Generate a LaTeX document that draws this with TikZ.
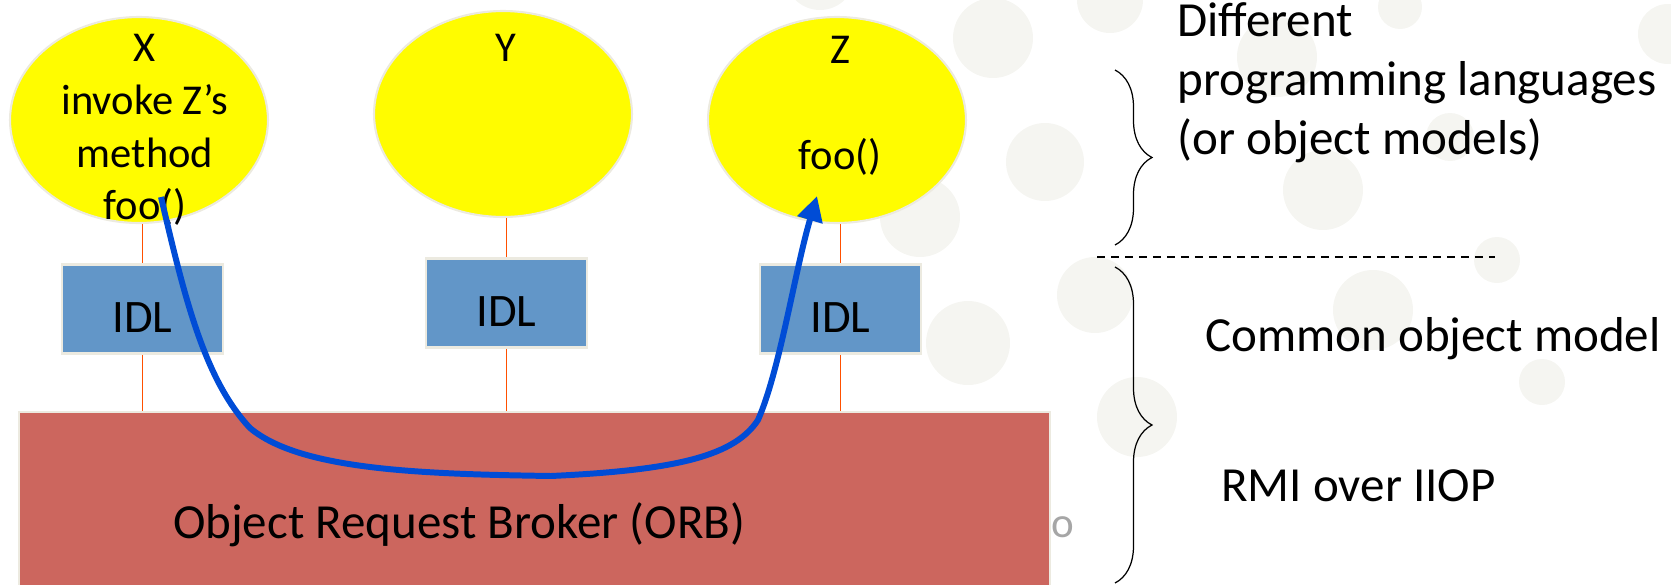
\documentclass[tikz,border=0pt]{standalone}
\usepackage{fontspec}
\setmainfont{Carlito}
\usepackage{tikz}
\usetikzlibrary{
  shapes.geometric, arrows.meta, positioning, calc,
  decorations.pathreplacing
}
\definecolor{objyellow}{RGB}{255,252,0}
\definecolor{idlblue}{RGB}{98,150,200}
\definecolor{orbred}{RGB}{204,102,94}
\definecolor{paleedge}{RGB}{236,234,224}
\definecolor{wireorange}{RGB}{255,80,0}
\definecolor{callblue}{RGB}{0,76,214}
\definecolor{bgdot}{RGB}{245,245,241}

\begin{document}
\begin{tikzpicture}[
    x=0.02cm, y=-0.02cm,
    font=\fontsize{27.9}{33.6}\selectfont,
    obj/.style={ellipse, draw=paleedge, line width=1.2pt, fill=objyellow, minimum width=5.16cm, minimum height=4.12cm},
    objtext/.style={inner sep=0pt, align=center, font=\fontsize{24.2}{30}\selectfont},
    idl/.style={rectangle, draw=paleedge, line width=1.6pt, fill=idlblue, minimum width=3.22cm, minimum height=1.78cm, text height=0.96cm, text depth=0pt, font=\fontsize{26.5}{32}\selectfont},
    orb/.style={rectangle, draw=paleedge, line width=1.2pt, fill=orbred, anchor=north west, minimum width=20.63cm, minimum height=4.44cm},
    orbtext/.style={inner sep=0pt, text height=0.62cm, text depth=0pt},
    note/.style={inner sep=0pt, align=left},
    link/.style={draw=wireorange, line width=1.1pt},
    call/.style={draw=callblue, line width=3.4pt, -{Triangle[length=0.5cm, width=0.5cm]}},
    layer/.style={dashed, dash pattern=on 0.16cm off 0.12cm, line width=0.6pt},
    span/.style={decorate, decoration={brace, amplitude=0.74cm}, line width=0.7pt},
]
    \useasboundingbox (0,0) rectangle (1671,585);

    % Background dots
    \foreach \cx/\cy/\r in {1110/0/33, 993/38/40, 820/-25/35, 1277/57/40, 1400/7/22, 1668/34/30,
                            1045/162/39, 920/217/40, 1323/190/40, 1450/137/24, 1497/260/23,
                            1095/295/38, 1373/310/40, 1542/382/23, 1137/417/40, 968/343/42}
        \fill[bgdot] (\cx,\cy) circle[radius=\r];

    % Broker
    \node[orb, label={[orbtext, xshift=-1.5cm]center:Object Request Broker (ORB)}] (orb) at (17.5,411) {};
    \node[text=gray!70, font=\fontsize{24.5}{30}\selectfont, anchor=base] (slideno) at (1063,537) {o};

    % Objects
    \node[obj] (objX) at (139,120) {};
    \node[obj] (objY) at (503,114) {};
    \node[obj] (objZ) at (837,120) {};

    \node[objtext, below=0.36cm of objX.north, xshift=0.12cm] (txtX) {X\\invoke Z’s\\method\\foo()};
    \node[objtext, below=0.47cm of objY.north, xshift=0.06cm] (txtY) {Y};
    \node[objtext, below=0.40cm of objZ.north, xshift=0.06cm] (txtZ) {Z\\[30pt]foo()};

    % Interfaces
    \node[idl, below=0.78cm of objX, xshift=0.07cm] (idlX) {IDL};
    \node[idl, below=0.78cm of objY, xshift=0.07cm] (idlY) {IDL};
    \node[idl, below=0.78cm of objZ, xshift=0.07cm] (idlZ) {IDL};

    \draw[link] (objX.south -| idlX.north) -- (idlX.north);
    \draw[link] (objY.south -| idlY.north) -- (idlY.north);
    \draw[link] (objZ.south -| idlZ.north) -- (idlZ.north);
    \draw[link] (idlX.south) -- (idlX.south |- orb.north);
    \draw[link] (idlY.south) -- (idlY.south |- orb.north);
    \draw[link] (idlZ.south) -- (idlZ.south |- orb.north);

    % Remote call
    \coordinate (callfrom) at (161,197);
    \coordinate (callto) at (817,196);
    \draw[call] (callfrom) .. controls (185,300) and (205,380) .. (250,428)
        .. controls (300,470) and (420,474) .. (551,476)
        .. controls (680,470) and (735,455) .. (758,420)
        .. controls (780,370) and (795,270) .. (callto);

    % Layers
    \node[note, anchor=north west] (langs) at (1177,2) {Different\\programming languages\\(or object models)};
    \node[note, anchor=base west] (common) at (1205,351) {Common object model};
    \node[note, anchor=base west] (rmi) at (1221,501) {RMI over IIOP};

    \draw[span] (1115,70) -- (1115,245);
    \draw[layer] (1097,257) -- (1495,257);
    \draw[span] (1115,267) -- (1115,583);

\end{tikzpicture}
\end{document}
